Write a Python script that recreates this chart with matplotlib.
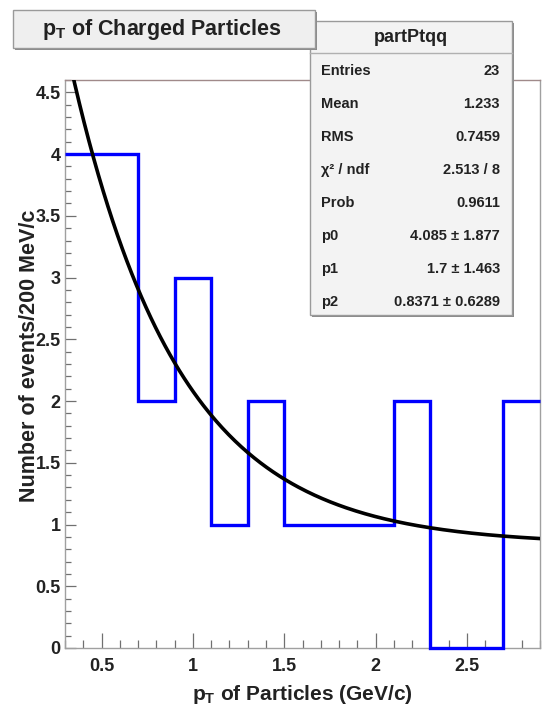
import numpy as np
import matplotlib
matplotlib.use("Agg")
import matplotlib.pyplot as plt
from matplotlib.patches import Rectangle
from matplotlib.ticker import MultipleLocator, FuncFormatter

# ---- histogram: pT of charged particles, 200 MeV/c bins ----
bin_edges = [0.3, 0.5, 0.7, 0.9, 1.1, 1.3, 1.5, 1.7, 1.9, 2.1, 2.3, 2.5, 2.7, 2.9]
bin_counts = [4, 4, 2, 3, 1, 2, 1, 1, 1, 2, 0, 0, 2]

# ---- exponential fit: p0 * exp(-p1 * (x - x0)) + p2 ----
fit_p0 = 4.085
fit_p1 = 1.7
fit_p2 = 0.8371
fit_x0 = 0.3

# ---- statistics box ----
stats_name = "partPtqq"
stats_labels = ["Entries", "Mean", "RMS", "\u03c7\u00b2 / ndf", "Prob", "p0", "p1", "p2"]
stats_values = ["23", "1.233", "0.7459", "2.513 / 8", "0.9611",
                "4.085 \u00b1 1.877", "1.7 \u00b1 1.463", "0.8371 \u00b1 0.6289"]

title_text = r"$\mathbf{p_{T}}$ of Charged Particles"
xlabel_text = r"$\mathbf{p_{T}}$ of Particles (GeV/c)"
ylabel_text = "Number of events/200 MeV/c"

plt.rcParams["font.family"] = ["Liberation Sans", "DejaVu Sans"]
plt.rcParams["font.weight"] = "bold"
plt.rcParams["mathtext.fontset"] = "custom"
plt.rcParams["mathtext.rm"] = "Liberation Sans:bold"
plt.rcParams["mathtext.bf"] = "Liberation Sans:bold"
plt.rcParams["mathtext.it"] = "Liberation Sans:bold"

W, H = 550, 720
fig = plt.figure(figsize=(W / 100, H / 100), dpi=100)
fig.patch.set_facecolor("white")


def fx(x):
    return x / W


def fy(y):
    return 1 - y / H


ax = fig.add_axes([fx(65), fy(648), (540 - 65) / W, (648 - 80) / H])
ax.set_xlim(bin_edges[0], bin_edges[-1])
ax.set_ylim(0, 4.6)

# histogram outline
ax.stairs(bin_counts, bin_edges, baseline=None, color="#0000ff",
          linewidth=2.4, clip_on=False, zorder=3)

# fit curve
xs = np.linspace(bin_edges[0], bin_edges[-1], 300)
ys = fit_p0 * np.exp(-fit_p1 * (xs - fit_x0)) + fit_p2
ax.plot(xs, ys, color="black", linewidth=2.6, zorder=4)

# frame
for side in ["left", "bottom", "right"]:
    ax.spines[side].set_color("#a0a0a0")
    ax.spines[side].set_linewidth(1.0)
ax.spines["top"].set_color("#a08a8a")
ax.spines["top"].set_linewidth(1.0)

ax.xaxis.set_major_locator(MultipleLocator(0.5))
ax.xaxis.set_minor_locator(MultipleLocator(0.1))
ax.yaxis.set_major_locator(MultipleLocator(0.5))
ax.yaxis.set_minor_locator(MultipleLocator(0.1))
fmt = FuncFormatter(lambda v, p: f"{v:g}")
ax.xaxis.set_major_formatter(fmt)
ax.yaxis.set_major_formatter(fmt)
ax.tick_params(which="both", direction="in", top=False, right=False,
               color="#707070", width=0.9)
ax.tick_params(axis="x", which="major", length=11, pad=7, labelsize=13)
ax.tick_params(axis="x", which="minor", length=5.5)
ax.tick_params(axis="y", which="major", length=8, pad=3, labelsize=13)
ax.tick_params(axis="y", which="minor", length=4)
for lab in ax.get_xticklabels() + ax.get_yticklabels():
    lab.set_fontweight("bold")
    lab.set_color("#222222")

fig.text(fx(302), fy(694), xlabel_text, ha="center", va="center",
         fontsize=15, fontweight="bold", color="#222222")
fig.text(fx(30), fy(356), ylabel_text, ha="center", va="center",
         rotation=90, fontsize=15.5, fontweight="bold", color="#222222")

# title box (drawn above the statistics box)
tb = (13, 10, 315, 48)
fig.add_artist(Rectangle((fx(tb[0] + 2), fy(tb[3] + 2)), (tb[2] - tb[0]) / W,
                         (tb[3] - tb[1]) / H, transform=fig.transFigure,
                         facecolor="#8a8a8a", edgecolor="none", zorder=20))
fig.add_artist(Rectangle((fx(tb[0]), fy(tb[3])), (tb[2] - tb[0]) / W,
                         (tb[3] - tb[1]) / H, transform=fig.transFigure,
                         facecolor="#efefef", edgecolor="#9a9a9a",
                         linewidth=1.0, zorder=21))
fig.text(fx(162), fy(29), title_text, ha="center", va="center",
         fontsize=15.5, fontweight="bold", color="#222222", zorder=22)

# statistics box
sb = (310, 21, 512, 315)
fig.add_artist(Rectangle((fx(sb[0] + 2), fy(sb[3] + 2)), (sb[2] - sb[0]) / W,
                         (sb[3] - sb[1]) / H, transform=fig.transFigure,
                         facecolor="#8a8a8a", edgecolor="none", zorder=10))
fig.add_artist(Rectangle((fx(sb[0]), fy(sb[3])), (sb[2] - sb[0]) / W,
                         (sb[3] - sb[1]) / H, transform=fig.transFigure,
                         facecolor="#f3f3f3", edgecolor="#9a9a9a",
                         linewidth=1.0, zorder=11))
fig.add_artist(plt.Line2D([fx(sb[0]), fx(sb[2])], [fy(53), fy(53)],
                          transform=fig.transFigure, color="#b0b0b0",
                          linewidth=1.0, zorder=12))
fig.text(fx((sb[0] + sb[2]) / 2), fy(38), stats_name, ha="center", va="center",
         fontsize=13, fontweight="bold", color="#222222", zorder=13)
row_y0, row_dy = 71, 33
for i, (lab, val) in enumerate(zip(stats_labels, stats_values)):
    y = row_y0 + i * row_dy
    fig.text(fx(321), fy(y), lab, ha="left", va="center", fontsize=10.5,
             fontweight="bold", color="#222222", zorder=13)
    fig.text(fx(500), fy(y), val, ha="right", va="center", fontsize=10.5,
             fontweight="bold", color="#222222", zorder=13)

fig.savefig("out.png", dpi=100)
